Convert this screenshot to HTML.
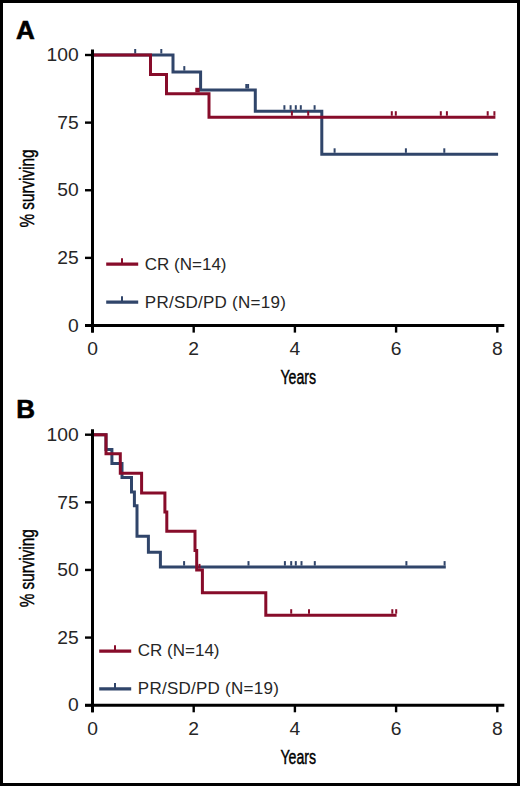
<!DOCTYPE html>
<html><head><meta charset="utf-8"><style>
html,body{margin:0;padding:0;background:#fff;}
svg{display:block;}
text{font-family:"Liberation Sans",sans-serif;}
</style></head><body>
<svg width="520" height="786" viewBox="0 0 520 786">
<rect x="0" y="0" width="520" height="786" fill="#fff"/>
<text x="15.9" y="38.7" font-size="26" font-weight="bold" fill="#000" stroke="#000" stroke-width="0.6">A</text>
<path d="M92.5,55 L173,55 L173,72.1 L200.6,72.1 L200.6,90 L255.3,90 L255.3,111.2 L321.8,111.2 L321.8,154.3 L498.1,154.3" fill="none" stroke="#30456a" stroke-width="3" stroke-linejoin="miter" stroke-linecap="butt"/>
<line x1="135.2" y1="53.5" x2="135.2" y2="49" stroke="#30456a" stroke-width="2"/>
<line x1="161.3" y1="53.5" x2="161.3" y2="49" stroke="#30456a" stroke-width="2"/>
<line x1="184.3" y1="70.6" x2="184.3" y2="66.1" stroke="#30456a" stroke-width="2"/>
<line x1="246.3" y1="88.5" x2="246.3" y2="84" stroke="#30456a" stroke-width="2"/>
<line x1="248.1" y1="88.5" x2="248.1" y2="84" stroke="#30456a" stroke-width="2"/>
<line x1="284.4" y1="109.7" x2="284.4" y2="105.2" stroke="#30456a" stroke-width="2"/>
<line x1="290.6" y1="109.7" x2="290.6" y2="105.2" stroke="#30456a" stroke-width="2"/>
<line x1="295.8" y1="109.7" x2="295.8" y2="105.2" stroke="#30456a" stroke-width="2"/>
<line x1="300.8" y1="109.7" x2="300.8" y2="105.2" stroke="#30456a" stroke-width="2"/>
<line x1="314.6" y1="109.7" x2="314.6" y2="105.2" stroke="#30456a" stroke-width="2"/>
<line x1="334.6" y1="152.8" x2="334.6" y2="148.3" stroke="#30456a" stroke-width="2"/>
<line x1="405.9" y1="152.8" x2="405.9" y2="148.3" stroke="#30456a" stroke-width="2"/>
<line x1="444.3" y1="152.8" x2="444.3" y2="148.3" stroke="#30456a" stroke-width="2"/>
<path d="M92.5,55 L150.5,55 L150.5,74.6 L166.5,74.6 L166.5,93.8 L209,93.8 L209,117.2 L495.4,117.2" fill="none" stroke="#870c2a" stroke-width="3" stroke-linejoin="miter" stroke-linecap="butt"/>
<line x1="197.5" y1="92.3" x2="197.5" y2="87.8" stroke="#870c2a" stroke-width="4.4"/>
<line x1="291.9" y1="115.7" x2="291.9" y2="111.2" stroke="#870c2a" stroke-width="2"/>
<line x1="308.2" y1="115.7" x2="308.2" y2="111.2" stroke="#870c2a" stroke-width="2"/>
<line x1="391.8" y1="115.7" x2="391.8" y2="111.2" stroke="#870c2a" stroke-width="2"/>
<line x1="395.8" y1="115.7" x2="395.8" y2="111.2" stroke="#870c2a" stroke-width="2"/>
<line x1="440.8" y1="115.7" x2="440.8" y2="111.2" stroke="#870c2a" stroke-width="2"/>
<line x1="446.9" y1="115.7" x2="446.9" y2="111.2" stroke="#870c2a" stroke-width="2"/>
<line x1="487.7" y1="115.7" x2="487.7" y2="111.2" stroke="#870c2a" stroke-width="2"/>
<line x1="494.4" y1="115.7" x2="494.4" y2="111.2" stroke="#870c2a" stroke-width="2"/>
<line x1="92.5" y1="49.5" x2="92.5" y2="332.6" stroke="#000" stroke-width="3"/>
<line x1="85" y1="325.5" x2="504.3" y2="325.5" stroke="#000" stroke-width="3"/>
<line x1="85" y1="55" x2="92" y2="55" stroke="#000" stroke-width="2.4"/>
<text transform="translate(78.6,61.2) scale(1.07,1)" font-size="18" text-anchor="end" fill="#262626">100</text>
<line x1="85" y1="122.62" x2="92" y2="122.62" stroke="#000" stroke-width="2.4"/>
<text transform="translate(78.6,128.82) scale(1.07,1)" font-size="18" text-anchor="end" fill="#262626">75</text>
<line x1="85" y1="190.25" x2="92" y2="190.25" stroke="#000" stroke-width="2.4"/>
<text transform="translate(78.6,196.45) scale(1.07,1)" font-size="18" text-anchor="end" fill="#262626">50</text>
<line x1="85" y1="257.88" x2="92" y2="257.88" stroke="#000" stroke-width="2.4"/>
<text transform="translate(78.6,264.07) scale(1.07,1)" font-size="18" text-anchor="end" fill="#262626">25</text>
<line x1="85" y1="325.5" x2="92" y2="325.5" stroke="#000" stroke-width="2.4"/>
<text transform="translate(78.6,331.7) scale(1.07,1)" font-size="18" text-anchor="end" fill="#262626">0</text>
<line x1="92.5" y1="325.5" x2="92.5" y2="332.6" stroke="#000" stroke-width="2.4"/>
<text transform="translate(92.5,355) scale(1.07,1)" font-size="18" text-anchor="middle" fill="#262626">0</text>
<line x1="193.7" y1="325.5" x2="193.7" y2="332.6" stroke="#000" stroke-width="2.4"/>
<text transform="translate(193.7,355) scale(1.07,1)" font-size="18" text-anchor="middle" fill="#262626">2</text>
<line x1="294.9" y1="325.5" x2="294.9" y2="332.6" stroke="#000" stroke-width="2.4"/>
<text transform="translate(294.9,355) scale(1.07,1)" font-size="18" text-anchor="middle" fill="#262626">4</text>
<line x1="396.1" y1="325.5" x2="396.1" y2="332.6" stroke="#000" stroke-width="2.4"/>
<text transform="translate(396.1,355) scale(1.07,1)" font-size="18" text-anchor="middle" fill="#262626">6</text>
<line x1="497.3" y1="325.5" x2="497.3" y2="332.6" stroke="#000" stroke-width="2.4"/>
<text transform="translate(497.3,355) scale(1.07,1)" font-size="18" text-anchor="middle" fill="#262626">8</text>
<text transform="translate(298.3,384) scale(0.675,1)" font-size="21" text-anchor="middle" fill="#000" stroke="#000" stroke-width="0.45">Years</text>
<text transform="translate(34.2,188.5) rotate(-90) scale(0.75,1)" font-size="20.4" text-anchor="middle" fill="#000" stroke="#000" stroke-width="0.45">% surviving</text>
<line x1="106.2" y1="264.1" x2="138.2" y2="264.1" stroke="#870c2a" stroke-width="3.3"/>
<line x1="122" y1="263.8" x2="122" y2="258.3" stroke="#870c2a" stroke-width="2"/>
<text x="144.8" y="270.3" font-size="17" fill="#262626">CR (N=14)</text>
<line x1="106.2" y1="302.1" x2="138.2" y2="302.1" stroke="#30456a" stroke-width="3.3"/>
<line x1="122" y1="301.8" x2="122" y2="296.3" stroke="#30456a" stroke-width="2"/>
<text x="144.8" y="308.3" font-size="17" fill="#262626" textLength="141" lengthAdjust="spacing">PR/SD/PD (N=19)</text>
<text x="16.2" y="417.8" font-size="26" font-weight="bold" fill="#000" stroke="#000" stroke-width="0.6">B</text>
<path d="M92.5,434.7 L106,434.7 L106,449.5 L111.9,449.5 L111.9,463.4 L122,463.4 L122,477.5 L131.5,477.5 L131.5,491.9 L134.4,491.9 L134.4,505.8 L137,505.8 L137,536.3 L148.4,536.3 L148.4,552.2 L160.4,552.2 L160.4,567.1 L445.8,567.1" fill="none" stroke="#30456a" stroke-width="3" stroke-linejoin="miter" stroke-linecap="butt"/>
<line x1="184.1" y1="565.6" x2="184.1" y2="561.1" stroke="#30456a" stroke-width="2"/>
<line x1="248.5" y1="565.6" x2="248.5" y2="561.1" stroke="#30456a" stroke-width="2"/>
<line x1="284.9" y1="565.6" x2="284.9" y2="561.1" stroke="#30456a" stroke-width="2"/>
<line x1="291.2" y1="565.6" x2="291.2" y2="561.1" stroke="#30456a" stroke-width="2"/>
<line x1="295.8" y1="565.6" x2="295.8" y2="561.1" stroke="#30456a" stroke-width="2"/>
<line x1="301.5" y1="565.6" x2="301.5" y2="561.1" stroke="#30456a" stroke-width="2"/>
<line x1="314.8" y1="565.6" x2="314.8" y2="561.1" stroke="#30456a" stroke-width="2"/>
<line x1="406.4" y1="565.6" x2="406.4" y2="561.1" stroke="#30456a" stroke-width="2"/>
<line x1="444.6" y1="565.6" x2="444.6" y2="561.1" stroke="#30456a" stroke-width="2"/>
<path d="M92.5,434.7 L106,434.7 L106,453.8 L120.3,453.8 L120.3,473.2 L141.6,473.2 L141.6,493.1 L164.9,493.1 L164.9,511.9 L166.8,511.9 L166.8,531.3 L195,531.3 L195,550.6 L196.7,550.6 L196.7,569.9 L202.4,569.9 L202.4,592.7 L265.8,592.7 L265.8,615.2 L396.6,615.2" fill="none" stroke="#870c2a" stroke-width="3" stroke-linejoin="miter" stroke-linecap="butt"/>
<line x1="199.5" y1="568.4" x2="199.5" y2="563.9" stroke="#870c2a" stroke-width="2"/>
<line x1="291.2" y1="613.7" x2="291.2" y2="609.2" stroke="#870c2a" stroke-width="2"/>
<line x1="309" y1="613.7" x2="309" y2="609.2" stroke="#870c2a" stroke-width="2"/>
<line x1="392.3" y1="613.7" x2="392.3" y2="609.2" stroke="#870c2a" stroke-width="2"/>
<line x1="396.2" y1="613.7" x2="396.2" y2="609.2" stroke="#870c2a" stroke-width="2"/>
<line x1="92.5" y1="429.2" x2="92.5" y2="712.3" stroke="#000" stroke-width="3"/>
<line x1="85" y1="705.2" x2="504.3" y2="705.2" stroke="#000" stroke-width="3"/>
<line x1="85" y1="434.7" x2="92" y2="434.7" stroke="#000" stroke-width="2.4"/>
<text transform="translate(78.6,440.9) scale(1.07,1)" font-size="18" text-anchor="end" fill="#262626">100</text>
<line x1="85" y1="502.32" x2="92" y2="502.32" stroke="#000" stroke-width="2.4"/>
<text transform="translate(78.6,508.52) scale(1.07,1)" font-size="18" text-anchor="end" fill="#262626">75</text>
<line x1="85" y1="569.95" x2="92" y2="569.95" stroke="#000" stroke-width="2.4"/>
<text transform="translate(78.6,576.15) scale(1.07,1)" font-size="18" text-anchor="end" fill="#262626">50</text>
<line x1="85" y1="637.58" x2="92" y2="637.58" stroke="#000" stroke-width="2.4"/>
<text transform="translate(78.6,643.78) scale(1.07,1)" font-size="18" text-anchor="end" fill="#262626">25</text>
<line x1="85" y1="705.2" x2="92" y2="705.2" stroke="#000" stroke-width="2.4"/>
<text transform="translate(78.6,711.4) scale(1.07,1)" font-size="18" text-anchor="end" fill="#262626">0</text>
<line x1="92.5" y1="705.2" x2="92.5" y2="712.3" stroke="#000" stroke-width="2.4"/>
<text transform="translate(92.5,734.7) scale(1.07,1)" font-size="18" text-anchor="middle" fill="#262626">0</text>
<line x1="193.7" y1="705.2" x2="193.7" y2="712.3" stroke="#000" stroke-width="2.4"/>
<text transform="translate(193.7,734.7) scale(1.07,1)" font-size="18" text-anchor="middle" fill="#262626">2</text>
<line x1="294.9" y1="705.2" x2="294.9" y2="712.3" stroke="#000" stroke-width="2.4"/>
<text transform="translate(294.9,734.7) scale(1.07,1)" font-size="18" text-anchor="middle" fill="#262626">4</text>
<line x1="396.1" y1="705.2" x2="396.1" y2="712.3" stroke="#000" stroke-width="2.4"/>
<text transform="translate(396.1,734.7) scale(1.07,1)" font-size="18" text-anchor="middle" fill="#262626">6</text>
<line x1="497.3" y1="705.2" x2="497.3" y2="712.3" stroke="#000" stroke-width="2.4"/>
<text transform="translate(497.3,734.7) scale(1.07,1)" font-size="18" text-anchor="middle" fill="#262626">8</text>
<text transform="translate(298.3,763.7) scale(0.675,1)" font-size="21" text-anchor="middle" fill="#000" stroke="#000" stroke-width="0.45">Years</text>
<text transform="translate(34.2,568.2) rotate(-90) scale(0.75,1)" font-size="20.4" text-anchor="middle" fill="#000" stroke="#000" stroke-width="0.45">% surviving</text>
<line x1="99.2" y1="651.1" x2="131.2" y2="651.1" stroke="#870c2a" stroke-width="3.3"/>
<line x1="115" y1="650.8" x2="115" y2="645.3" stroke="#870c2a" stroke-width="2"/>
<text x="137.8" y="656.1" font-size="17" fill="#262626">CR (N=14)</text>
<line x1="99.2" y1="688.8" x2="131.2" y2="688.8" stroke="#30456a" stroke-width="3.3"/>
<line x1="115" y1="688.5" x2="115" y2="683" stroke="#30456a" stroke-width="2"/>
<text x="137.8" y="693.8" font-size="17" fill="#262626" textLength="141" lengthAdjust="spacing">PR/SD/PD (N=19)</text>
<rect x="1.5" y="1.5" width="517" height="783" fill="none" stroke="#000" stroke-width="3"/>
</svg>
</body></html>
